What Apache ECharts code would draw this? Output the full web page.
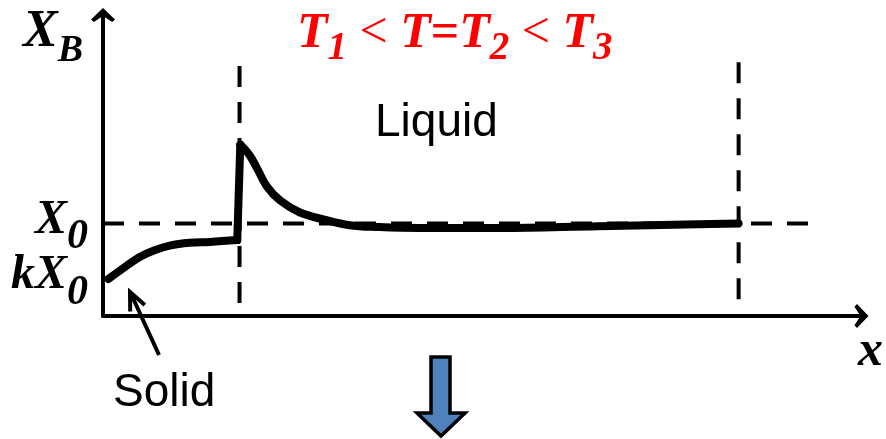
<!DOCTYPE html>
<html>
<head>
<meta charset="utf-8">
<script src="https://cdn.jsdelivr.net/npm/echarts@6/dist/echarts.min.js"></script>
<style>
  html, body { margin: 0; padding: 0; background: #fff; }
  #chart { width: 886px; height: 439px; }
</style>
</head>
<body>
<div id="chart"></div>
<script>
// Concentration profile X_B along x during solidification (solid | liquid)
const profileX = [0.7, 2.9, 4.9, 6.8, 8.8, 11.4, 14.1, 17.7, 18.1, 19.3, 20.4, 21.6, 23.3, 25.9, 29.2, 32.5, 36.4, 41.7, 52.2, 65.3, 78.5, 83.8];
const profileY = [0.40, 0.53, 0.64, 0.71, 0.76, 0.79, 0.80, 0.82, 1.85, 1.74, 1.58, 1.40, 1.25, 1.12, 1.04, 0.98, 0.96, 0.95, 0.95, 0.97, 0.99, 1.00];
// index of the last solid-side point (the interface)
const interfaceIndex = 7;

// Reference levels and positions
const X0 = 1.0;
const kX0 = 0.4;
const interfaceX = 18.0;
const farX = 83.8;
const guideEndX = 94.6;
const interfaceTop = 2.70;
const farTop = 2.74;

// Y tick labels
const yTickValues = [kX0, X0];
const yTickLabels = ['{m|kX}{s|0}', '{m|X}{s|0}'];

const serifBI = { fontFamily: 'Liberation Serif', fontWeight: 'bold', fontStyle: 'italic', color: '#000' };
const chevron = 'path://M12 0 L24 11.5 L21.2 14 L12 8 L2.8 14 L0 11.5 Z';

const pts = profileX.map((x, i) => [x, profileY[i]]);
const solidPart = pts.slice(0, interfaceIndex + 1);
const jumpPart = pts.slice(interfaceIndex, interfaceIndex + 2);
const liquidPart = pts.slice(interfaceIndex + 1);

const chart = echarts.init(document.getElementById('chart'), null, { renderer: 'canvas' });

const dashed = { color: '#000', width: 4, type: [21, 15] };
const profileStyle = { color: '#000', width: 8, cap: 'round', join: 'round' };

chart.setOption({
  animation: false,
  backgroundColor: '#fff',
  title: {
    text: '{T|T}{s|1}{o| < }{T|T}{e|=}{T|T}{s|2}{o| < }{T|T}{s|3}',
    left: 297,
    top: 9,
    padding: 0,
    textStyle: {
      rich: {
        T: { fontFamily: 'Liberation Serif', fontWeight: 'bold', fontStyle: 'italic', fontSize: 50, color: '#ff0000', verticalAlign: 'top' },
        s: { fontFamily: 'Liberation Serif', fontWeight: 'bold', fontStyle: 'italic', fontSize: 39, color: '#ff0000', verticalAlign: 'top', padding: [20, 0, 0, 0] },
        o: { fontFamily: 'Liberation Serif', fontWeight: 'normal', fontSize: 50, color: '#ff0000', verticalAlign: 'top' },
        e: { fontFamily: 'Liberation Serif', fontWeight: 'bold', fontSize: 50, color: '#ff0000', verticalAlign: 'top' }
      }
    }
  },
  grid: { left: 103, right: 22, top: 15, bottom: 123 },
  xAxis: {
    type: 'value',
    min: 0,
    max: 100,
    name: 'x',
    nameLocation: 'end',
    nameGap: 9,
    nameTextStyle: Object.assign({}, serifBI, { fontSize: 50, align: 'center', verticalAlign: 'top', padding: [11, 0, 0, 0] }),
    axisLine: { show: true, lineStyle: { color: '#000', width: 4 }, symbol: ['none', chevron], symbolSize: [24, 14] },
    axisTick: { show: false },
    axisLabel: { show: false },
    splitLine: { show: false }
  },
  yAxis: {
    type: 'value',
    min: 0,
    max: 3.25,
    interval: 0.2,
    name: '{m|X}{s|B}',
    nameLocation: 'end',
    nameGap: 8,
    nameTextStyle: {
      align: 'right',
      verticalAlign: 'top',
      padding: [0, 20, 0, 0],
      rich: {
        m: Object.assign({}, serifBI, { fontSize: 52, verticalAlign: 'top' }),
        s: Object.assign({}, serifBI, { fontSize: 38, verticalAlign: 'top', padding: [25, 0, 0, 0] })
      }
    },
    axisLine: { show: true, lineStyle: { color: '#000', width: 4 }, symbol: ['none', chevron], symbolSize: [24, 14] },
    axisTick: { show: false },
    splitLine: { show: false },
    axisLabel: {
      show: true,
      showMinLabel: true,
      showMaxLabel: false,
      hideOverlap: false,
      margin: 15,
      padding: [0, 0, 30, 0],
      formatter: function (v) {
        for (let i = 0; i < yTickValues.length; i++) {
          if (Math.abs(v - yTickValues[i]) < 1e-6) return yTickLabels[i];
        }
        return '';
      },
      rich: {
        m: Object.assign({}, serifBI, { fontSize: 48, lineHeight: 24, verticalAlign: 'top' }),
        s: Object.assign({}, serifBI, { fontSize: 42, lineHeight: 24, verticalAlign: 'top', padding: [20, 0, 0, 0] })
      }
    }
  },
  series: [
    { type: 'line', data: [[0, X0], [guideEndX, X0]], symbol: 'none', lineStyle: dashed, z: 1 },
    { type: 'line', data: [[interfaceX, interfaceTop], [interfaceX, 0]], symbol: 'none', lineStyle: dashed, z: 1 },
    { type: 'line', data: [[farX, farTop], [farX, 0]], symbol: 'none', lineStyle: dashed, z: 1 },
    { type: 'line', data: solidPart, symbol: 'none', smooth: 0.4, lineStyle: profileStyle, z: 3 },
    { type: 'line', data: jumpPart, symbol: 'none', lineStyle: profileStyle, z: 3 },
    { type: 'line', data: liquidPart, symbol: 'none', smooth: 0.4, lineStyle: profileStyle, z: 3 }
  ],
  graphic: [
    {
      type: 'text', x: 375, y: 123,
      style: { text: 'Liquid', font: '46px "Liberation Sans"', fill: '#000', textVerticalAlign: 'middle' }
    },
    {
      type: 'text', x: 113, y: 393,
      style: { text: 'Solid', font: '46px "Liberation Sans"', fill: '#000', textVerticalAlign: 'middle' }
    },
    {
      type: 'line',
      shape: { x1: 159, y1: 355, x2: 132, y2: 296 },
      style: { stroke: '#000', lineWidth: 4 }
    },
    {
      type: 'polyline',
      shape: { points: [[144.8, 305], [130, 292], [130.2, 311.6]] },
      style: { stroke: '#000', lineWidth: 4, fill: null, lineJoin: 'miter' }
    },
    {
      type: 'polygon',
      shape: { points: [[431, 357], [450, 357], [450, 413], [465, 413], [441, 436], [417, 413], [431, 413]] },
      style: { fill: '#4F81BD', stroke: '#000', lineWidth: 3.5, lineJoin: 'miter' }
    }
  ]
});
</script>
</body>
</html>
